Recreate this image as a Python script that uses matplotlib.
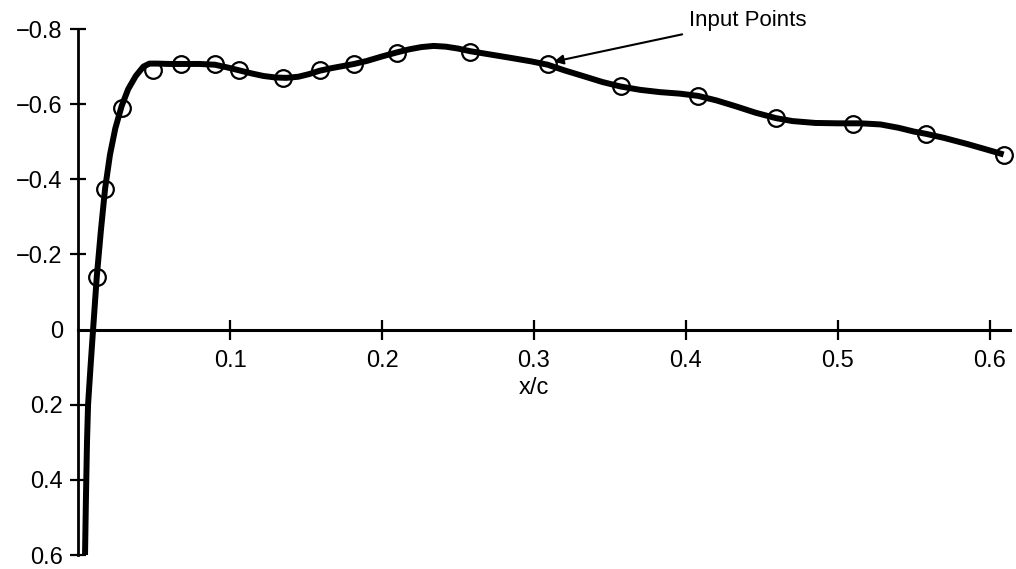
import matplotlib
matplotlib.use("Agg")
import matplotlib.pyplot as plt

plt.rcParams['font.family'] = ['Liberation Sans', 'DejaVu Sans']

# input points (circles)
pts_x = [0.0123, 0.0178, 0.0287, 0.0490, 0.068, 0.090, 0.106, 0.135, 0.159,
         0.1816, 0.210, 0.258, 0.309, 0.357, 0.408, 0.459, 0.510, 0.558, 0.609]
pts_y = [-0.139, -0.375, -0.589, -0.690, -0.706, -0.706, -0.690, -0.670, -0.692,
         -0.706, -0.737, -0.739, -0.706, -0.648, -0.623, -0.562, -0.548, -0.521, -0.466]

# fitted curve
curve_x = [0.0046, 0.0052, 0.0059, 0.0066, 0.0082, 0.0099, 0.0123, 0.0150, 0.0178,
           0.0210, 0.0245, 0.0287, 0.0330, 0.0380, 0.0430, 0.0470, 0.0520, 0.060,
           0.068, 0.080, 0.090, 0.098, 0.106, 0.114, 0.122, 0.130, 0.137, 0.145,
           0.152, 0.159, 0.167, 0.175, 0.1816, 0.190, 0.200, 0.210, 0.218, 0.226,
           0.234, 0.242, 0.250, 0.258, 0.270, 0.285, 0.298, 0.309, 0.320, 0.333,
           0.345, 0.357, 0.370, 0.383, 0.396, 0.408, 0.420, 0.433, 0.446, 0.459,
           0.470, 0.485, 0.500, 0.515, 0.528, 0.540, 0.550, 0.558, 0.570, 0.585,
           0.598, 0.609]
curve_y = [0.60, 0.45, 0.30, 0.20, 0.10, 0.00, -0.139, -0.262, -0.375,
           -0.465, -0.535, -0.595, -0.640, -0.675, -0.700, -0.708, -0.708, -0.707,
           -0.707, -0.707, -0.705, -0.698, -0.690, -0.682, -0.675, -0.671, -0.670, -0.673,
           -0.680, -0.689, -0.696, -0.702, -0.707, -0.715, -0.727, -0.738, -0.746, -0.752,
           -0.755, -0.753, -0.748, -0.741, -0.733, -0.723, -0.714, -0.705, -0.690, -0.674,
           -0.659, -0.647, -0.638, -0.632, -0.628, -0.622, -0.610, -0.594, -0.577, -0.563,
           -0.555, -0.550, -0.549, -0.549, -0.546, -0.537, -0.527, -0.521, -0.510, -0.494,
           -0.479, -0.466]

xticks = [0.1, 0.2, 0.3, 0.4, 0.5, 0.6]
yticks = [-0.8, -0.6, -0.4, -0.2, 0, 0.2, 0.4, 0.6]
ytick_labels = ['\u22120.8', '\u22120.6', '\u22120.4', '\u22120.2', '0', '0.2', '0.4', '0.6']

fig = plt.figure(figsize=(10.16, 5.69), dpi=100)
ax = fig.add_axes([0.0768, 0.0246, 0.917, 0.9244])

ax.plot(curve_x, curve_y, color='black', lw=4.3, solid_capstyle='butt',
        solid_joinstyle='round', clip_on=False, zorder=3)
ax.plot(pts_x, pts_y, 'o', ms=12, mfc='none', mec='black', mew=1.6,
        clip_on=False, zorder=4)

ax.set_xlim(0, 0.613)
ax.set_ylim(0.6, -0.8)

for s in ['top', 'right']:
    ax.spines[s].set_visible(False)
ax.spines['bottom'].set_position(('data', 0))
ax.spines['bottom'].set_linewidth(2.2)
ax.spines['left'].set_linewidth(2.0)

ax.set_xticks(xticks)
ax.set_xticklabels([str(t) for t in xticks])
ax.set_yticks(yticks)
ax.set_yticklabels(ytick_labels)
ax.tick_params(axis='x', direction='inout', length=15, width=1.6, pad=7, labelsize=17)
ax.tick_params(axis='y', direction='inout', length=12, width=1.6, pad=5, labelsize=17)
# no tick mark at the origin
ax.yaxis.get_major_ticks()[4].tick1line.set_visible(False)

ax.text(0.3, 0.155, 'x/c', ha='center', va='center', fontsize=17)

ax.annotate('Input Points', xy=(0.313, -0.713), xytext=(0.402, -0.823),
            fontsize=16, ha='left', va='center',
            arrowprops=dict(arrowstyle='-|>', color='black', lw=1.5,
                            mutation_scale=14, shrinkA=3, shrinkB=0))

fig.savefig('out.png', dpi=100)
